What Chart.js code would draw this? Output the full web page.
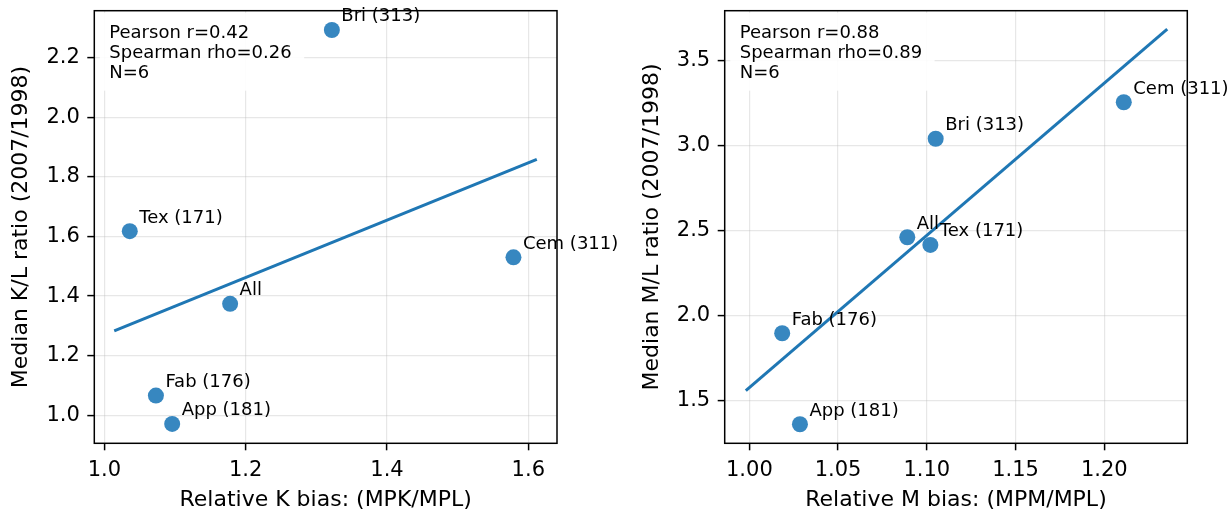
<!DOCTYPE html>
<html>
<head>
<meta charset="utf-8">
<script src="https://cdn.jsdelivr.net/npm/chart.js@4"></script>
<style>
  html, body { margin: 0; padding: 0; background: #fff; }
  #wrap { position: relative; width: 1228px; height: 510px; overflow: hidden; }
  .panel { position: absolute; top: 0; height: 510px; }
</style>
</head>
<body>
<div id="wrap">
  <div class="panel" style="left:0;width:640px"><canvas id="chartK"></canvas></div>
  <div class="panel" style="left:620px;width:608px"><canvas id="chartM"></canvas></div>
</div>
<script>
// Group labels (same order in both panels)
const groupLabels = ['Bri (313)', 'Tex (171)', 'Cem (311)', 'All', 'Fab (176)', 'App (181)'];

// Left panel: K bias vs median K/L ratio
const kBias  = [1.322, 1.036, 1.579, 1.178, 1.073, 1.096];
const kRatio = [2.293, 1.618, 1.530, 1.374, 1.066, 0.971];
const kFitX  = [1.014, 1.612];
const kFitY  = [1.283, 1.859];
const kStats = ['Pearson r=0.42', 'Spearman rho=0.26', 'N=6'];
const kXTicks = [1.0, 1.2, 1.4, 1.6];
const kYTicks = [1.0, 1.2, 1.4, 1.6, 1.8, 2.0, 2.2];
const kXRange = [0.9858, 1.6406];
const kYRange = [0.906, 2.3577];

// Right panel: M bias vs median M/L ratio
const mBias  = [1.105, 1.102, 1.211, 1.089, 1.0185, 1.0285];
const mRatio = [3.042, 2.417, 3.257, 2.462, 1.897, 1.361];
const mFitX  = [0.998, 1.2355];
const mFitY  = [1.559, 3.687];
const mStats = ['Pearson r=0.88', 'Spearman rho=0.89', 'N=6'];
const mXTicks = [1.00, 1.05, 1.10, 1.15, 1.20];
const mYTicks = [1.5, 2.0, 2.5, 3.0, 3.5];
const mXRange = [0.9861, 1.2468];
const mYRange = [1.249, 3.796];

const FONT = '"DejaVu Sans", sans-serif';
const pointColor = '#3787c0';
const lineColor = '#1f77b4';

Chart.defaults.font.family = FONT;
Chart.defaults.color = '#000';

// stats box, point labels and the axes frame
const panelDecor = {
  id: 'panelDecor',
  beforeDatasetsDraw(chart, args, opts) {
    const ctx = chart.ctx, a = chart.chartArea;
    ctx.save();
    ctx.font = '18px ' + FONT;
    const w = Math.max(...opts.stats.map(s => ctx.measureText(s).width));
    ctx.fillStyle = 'rgba(255,255,255,0.9)';
    ctx.fillRect(a.left + 5.5, a.top + 2, w + 22, 78);
    ctx.restore();
  },
  afterDatasetsDraw(chart, args, opts) {
    const ctx = chart.ctx, a = chart.chartArea;
    const xs = chart.scales.x, ys = chart.scales.y;
    ctx.save();
    ctx.font = '18px ' + FONT;
    ctx.fillStyle = '#000';
    ctx.textBaseline = 'alphabetic';
    ctx.textAlign = 'left';
    opts.stats.forEach((s, i) => ctx.fillText(s, a.left + 15, a.top + 27 + i * 20.2));
    const pts = chart.data.datasets[1].data;
    pts.forEach((p, i) => {
      ctx.fillText(opts.labels[i], xs.getPixelForValue(p.x) + 9.5, ys.getPixelForValue(p.y) - 8.5);
    });
    ctx.strokeStyle = '#000';
    ctx.lineWidth = 1.5;
    ctx.strokeRect(a.left, a.top, a.right - a.left, a.bottom - a.top);
    ctx.restore();
  }
};

function makeAxis(isX, range, tickVals, decimals, titleText, size, titlePad) {
  return {
    type: 'linear',
    min: range[0],
    max: range[1],
    afterBuildTicks: s => { s.ticks = tickVals.map(v => ({ value: v })); },
    afterFit: s => {
      if (isX) s.height = size; else s.width = size;
      s.paddingTop = 0; s.paddingBottom = 0; s.paddingLeft = 0; s.paddingRight = 0;
    },
    border: { display: false },
    grid: {
      color: 'rgba(176,176,176,0.3)',
      lineWidth: 1.2,
      tickColor: '#000',
      tickWidth: 1.5,
      tickLength: 7
    },
    ticks: {
      color: '#000',
      font: { family: FONT, size: 21 },
      padding: isX ? 8 : 7.5,
      maxRotation: 0,
      autoSkip: false,
      callback: v => Number(v).toFixed(decimals)
    },
    title: {
      display: true,
      text: titleText,
      color: '#000',
      font: { family: FONT, size: 22, lineHeight: isX ? 0.86 : 1.2 },
      padding: titlePad
    }
  };
}

function makeChart(id, xs, ys, fitX, fitY, stats, xAxis, yAxis, pad) {
  const pts = xs.map((x, i) => ({ x: x, y: ys[i] }));
  const fit = fitX.map((x, i) => ({ x: x, y: fitY[i] }));
  return new Chart(document.getElementById(id), {
    type: 'scatter',
    data: {
      datasets: [
        {
          type: 'line',
          data: fit,
          borderColor: lineColor,
          borderWidth: 3,
          pointRadius: 0,
          fill: false,
          order: 0
        },
        {
          data: pts,
          backgroundColor: pointColor,
          borderColor: pointColor,
          borderWidth: 0,
          pointRadius: 8,
          pointHoverRadius: 8,
          order: 1
        }
      ]
    },
    options: {
      responsive: true,
      maintainAspectRatio: false,
      animation: false,
      layout: { padding: pad },
      plugins: {
        legend: { display: false },
        tooltip: { enabled: false },
        panelDecor: { stats: stats, labels: groupLabels }
      },
      scales: { x: xAxis, y: yAxis }
    },
    plugins: [panelDecor]
  });
}

makeChart('chartK', kBias, kRatio, kFitX, kFitY, kStats,
  makeAxis(true, kXRange, kXTicks, 1, 'Relative K bias: (MPK/MPL)', 66.7, { top: 0, bottom: 0 }),
  makeAxis(false, kYRange, kYTicks, 1, 'Median K/L ratio (2007/1998)', 94.3, { top: 8.3, bottom: 0 }),
  { left: 0, right: 83, top: 10.7, bottom: 0 });

makeChart('chartM', mBias, mRatio, mFitX, mFitY, mStats,
  makeAxis(true, mXRange, mXTicks, 2, 'Relative M bias: (MPM/MPL)', 66.7, { top: 0, bottom: 0 }),
  makeAxis(false, mYRange, mYTicks, 1, 'Median M/L ratio (2007/1998)', 104.7, { top: 18.8, bottom: 0 }),
  { left: 0, right: 40.7, top: 10.7, bottom: 0 });
</script>
</body>
</html>
